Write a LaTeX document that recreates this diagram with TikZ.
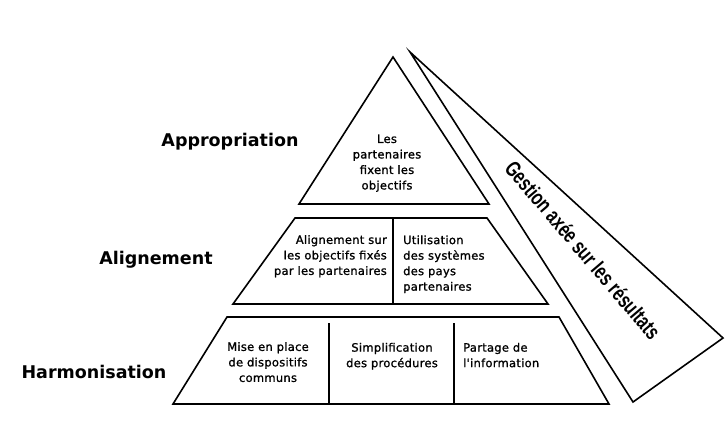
\documentclass[tikz,border=0pt]{standalone}
\usepackage{fontspec}
\setmainfont{DejaVu Sans}
\newfontfamily\cellfont[LetterSpace=2.4,FakeBold=1.2]{DejaVu Sans}
\newfontfamily\sidefont{Liberation Sans}
\begin{document}
\begin{tikzpicture}[x=1pt,y=-1pt,
  shapeline/.style={draw=black,line width=1.6pt,line join=miter},
  divline/.style={draw=black,line width=1.1pt},
  level/.style={font=\fontsize{17.5}{20}\selectfont\bfseries,inner sep=0pt},
  cell/.style={font=\cellfont\fontsize{11.5}{15.5}\selectfont,inner sep=0pt,text depth=0pt}]
\useasboundingbox (0,0) rectangle (725,432);
% top triangle
\coordinate (tA) at (393,57);
\coordinate (tL) at (299,204);
\coordinate (tR) at (489,204);
\draw[shapeline] (tA) -- (tL) -- (tR) -- cycle;
% middle trapezoid
\coordinate (mTL) at (295,218);
\coordinate (mTR) at (487,218);
\coordinate (mBR) at (548,304);
\coordinate (mBL) at (233,304);
\draw[shapeline] (mTL) -- (mTR) -- (mBR) -- (mBL) -- cycle;
\coordinate (mD1) at (393,218);
\coordinate (mD2) at (393,304);
\draw[divline] (mD1) -- (mD2);
% bottom trapezoid
\coordinate (bTL) at (227,317);
\coordinate (bTR) at (559,317);
\coordinate (bBR) at (609,404);
\coordinate (bBL) at (173,404);
\draw[shapeline] (bTL) -- (bTR) -- (bBR) -- (bBL) -- cycle;
\coordinate (bD1a) at (329,323);
\coordinate (bD1b) at (329,404);
\coordinate (bD2a) at (454,323);
\coordinate (bD2b) at (454,404);
\draw[divline] (bD1a) -- (bD1b);
\draw[divline] (bD2a) -- (bD2b);
% side triangle
\coordinate (sA) at (410,52);
\coordinate (sB) at (633,402);
\coordinate (sC) at (723,338);
\draw[shapeline] (sA) -- (sB) -- (sC) -- cycle;
% level labels
\node[level] (appr) at (230,142) {Appropriation};
\node[level] (alig) at (156,260) {Alignement};
\node[level] (harm) at (94,372) {Harmonisation};
% cell texts
\node[cell,align=center] (t1) at (387,162) {Les\\partenaires\\fixent les\\objectifs};
\node[cell,align=right,anchor=east] (m1) at (387,255) {Alignement sur\\les objectifs fixés\\par les partenaires};
\node[cell,align=left,anchor=west] (m2) at (403,263) {Utilisation\\des systèmes\\des pays\\partenaires};
\node[cell,align=center] (b1) at (268,362) {Mise en place\\de dispositifs\\communs};
\node[cell,align=center] (b2) at (392,355) {Simplification\\des procédures};
\node[cell,align=left,anchor=west] (b3) at (463,355) {Partage de\\l'information};
% side label
\node[inner sep=0pt,rotate=-49.5] (side) at (583,250)
  {\scalebox{0.725}[1]{\sidefont\fontsize{22}{24}\selectfont\bfseries Gestion axée sur les résultats}};
\end{tikzpicture}
\end{document}
